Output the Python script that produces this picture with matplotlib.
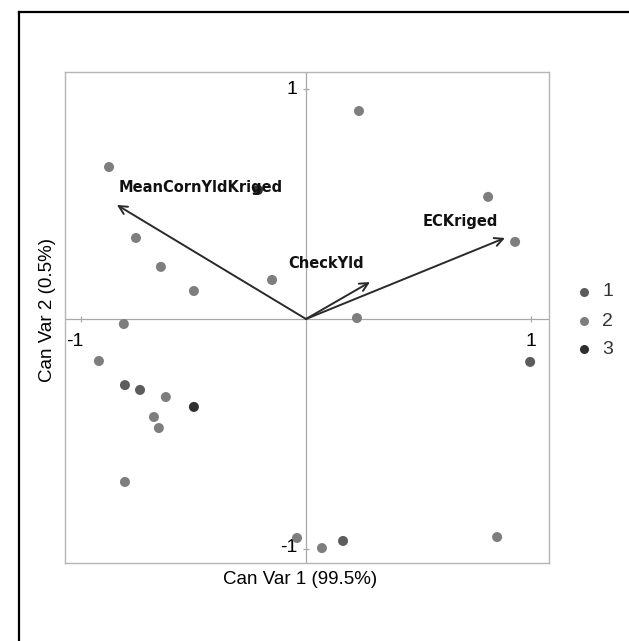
import numpy as np
import matplotlib.pyplot as plt
from matplotlib.lines import Line2D

# canonical scores
can1_g1 = [-0.806, -0.739, 0.165, 0.998]
can2_g1 = [-0.288, -0.309, -0.967, -0.187]

can1_g2 = [-0.877, -0.757, -0.646, -0.499, -0.151, -0.811, 0.236, 0.811, 0.931, 0.227,
           -0.922, -0.624, -0.677, -0.655, -0.806, -0.040, 0.071, 0.851]
can2_g2 = [0.662, 0.353, 0.227, 0.122, 0.170, -0.022, 0.906, 0.532, 0.336, 0.004,
           -0.183, -0.340, -0.427, -0.475, -0.710, -0.954, -0.998, -0.950]

can1_g3 = [-0.499, -0.214]
can2_g3 = [-0.383, 0.562]

groups = ["1", "2", "3"]
group_colors = ["#5c5c5c", "#7e7e7e", "#2e2e2e"]

# biplot rays
ray_names = ["MeanCornYldKriged", "CheckYld", "ECKriged"]
ray_x = [-0.842, 0.285, 0.886]
ray_y = [0.497, 0.161, 0.353]
label_x = [-0.468, 0.089, 0.686]
label_y = [0.571, 0.240, 0.423]

fig = plt.figure(figsize=(6.29, 6.41), dpi=100)
W, H = 629, 641
ax = fig.add_axes([65 / W, 1 - 563 / H, (549 - 65) / W, (563 - 72) / H])
ax.set_xlim(-1.073, 1.082)
ax.set_ylim(-1.063, 1.076)

for s in ax.spines.values():
    s.set_color("#b5b5b5")
    s.set_linewidth(1.0)
ax.set_xticks([])
ax.set_yticks([])

# crosshair through origin
ax.axhline(0, color="#a8a8a8", lw=0.9, zorder=1)
ax.axvline(0, color="#a8a8a8", lw=0.9, zorder=1)
ax.plot([-1, 1], [0, 0], ls="none", marker="|", ms=5, color="#a8a8a8", mew=0.9)
ax.plot([0, 0], [-1, 1], ls="none", marker="_", ms=5, color="#a8a8a8", mew=0.9)

ax.text(-0.04, 1.0, "1", fontsize=14, ha="right", va="center", family="Liberation Sans")
ax.text(-0.04, -0.995, "-1", fontsize=14, ha="right", va="center", family="Liberation Sans")
ax.text(-1.03, -0.10, "-1", fontsize=14, ha="center", va="center", family="Liberation Sans")
ax.text(1.0, -0.10, "1", fontsize=14, ha="center", va="center", family="Liberation Sans")

xs = [can1_g1, can1_g2, can1_g3]
ys = [can2_g1, can2_g2, can2_g3]
for i in range(3):
    ax.scatter(xs[i], ys[i], s=52, color=group_colors[i], edgecolors="none", zorder=3)

for i in range(len(ray_names)):
    ax.annotate("", xy=(ray_x[i], ray_y[i]), xytext=(0, 0),
                arrowprops=dict(arrowstyle="->", color="#2a2a2a", lw=1.4,
                                mutation_scale=15, shrinkA=0, shrinkB=0), zorder=4)
    ax.text(label_x[i], label_y[i], ray_names[i], fontsize=10.5, fontweight="bold",
            ha="center", va="center", color="#111111", family="DejaVu Sans", zorder=5)

# axis titles
fig.text(300 / W, 1 - 580 / H, "Can Var 1 (99.5%)", fontsize=13.5, ha="center", va="center",
         family="Liberation Sans")
fig.text(47 / W, 1 - 310 / H, "Can Var 2 (0.5%)", fontsize=13.5, ha="center", va="center",
         rotation=90, family="Liberation Sans")

# legend
leg_y = [292, 321, 349]
for i in range(3):
    fig.add_artist(Line2D([584 / W], [1 - leg_y[i] / H], ls="none", marker="o", ms=6.5,
                          color=group_colors[i], mec="none"))
    fig.text(602 / W, 1 - leg_y[i] / H, groups[i], fontsize=14, ha="left", va="center",
             family="Liberation Sans", color="#333333")

# outer frame of the scanned figure
fig.add_artist(Line2D([19 / W, 19 / W], [0, 1 - 12 / H], color="black", lw=1.6))
fig.add_artist(Line2D([19 / W, 1], [1 - 12 / H, 1 - 12 / H], color="black", lw=1.6))

fig.savefig("out.png", dpi=100)
